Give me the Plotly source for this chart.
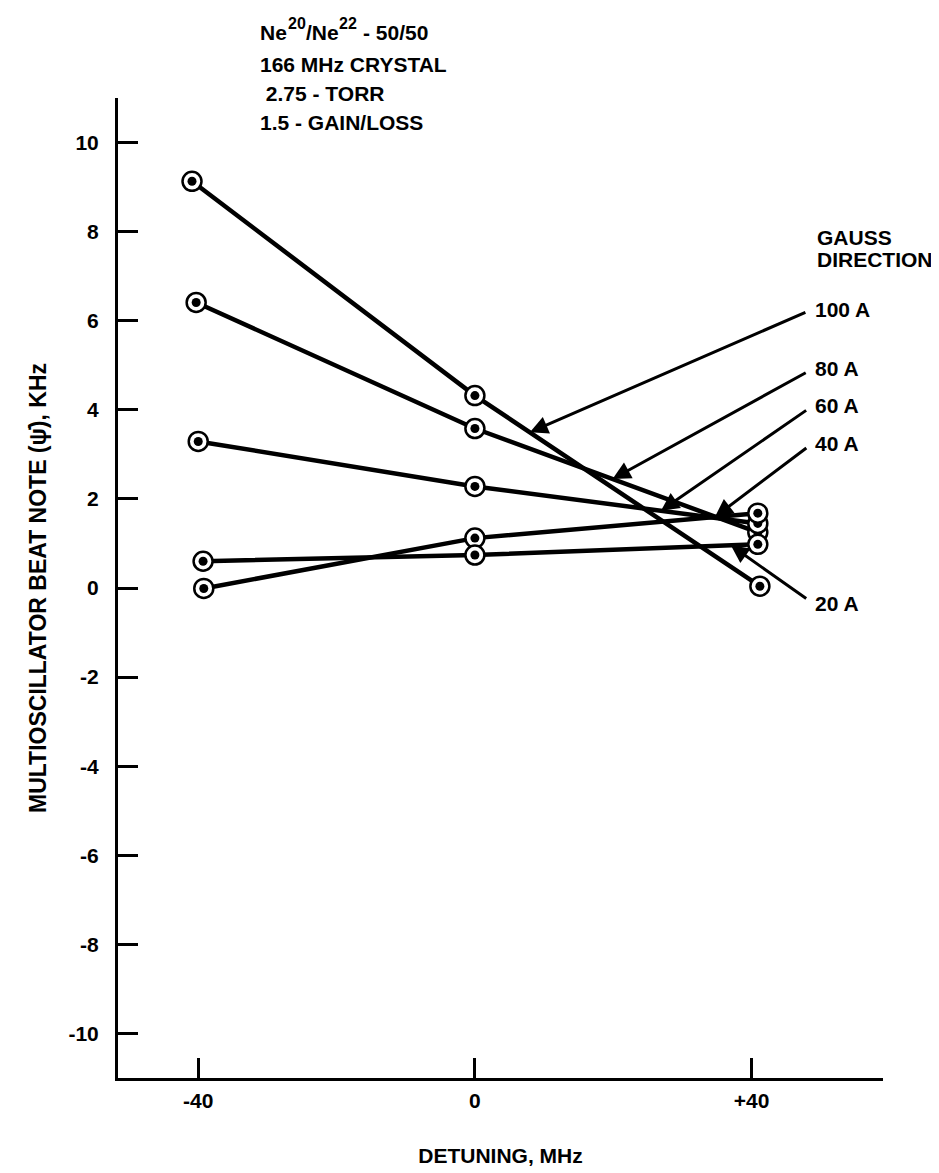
import numpy as np
import plotly.graph_objects as go

# ---- data ----
series_names = ["100 A", "80 A", "60 A", "40 A", "20 A"]
x_100 = [-40.9, 0.0, 41.2]
y_100 = [9.13, 4.32, 0.04]
x_80 = [-40.3, 0.0, 40.9]
y_80 = [6.41, 3.58, 1.25]
x_60 = [-40.0, 0.0, 40.9]
y_60 = [3.29, 2.28, 1.45]
x_40 = [-39.2, 0.0, 40.9]
y_40 = [-0.01, 1.12, 1.68]
x_20 = [-39.3, 0.0, 40.9]
y_20 = [0.60, 0.74, 0.98]

x_tickvals = [-40, 0, 40]
x_ticktext = ["-40", "0", "+40"]
y_tickvals = [-10, -8, -6, -4, -2, 0, 2, 4, 6, 8, 10]
y_ticktext = ["-10", "-8", "-6", "-4", "-2", "0", "2", "4", "6", "8", "10"]

# label arrows: x where each arrow touches its line, label y
arrow_tip_x = [7.95, 19.9, 26.9, 34.7, 37.0]
label_y = [6.26, 4.92, 4.09, 3.25, -0.34]
LABEL_X = 48.84

FONT = "Liberation Sans, Arial, sans-serif"
FS = 21


def bold_font(size=FS):
    return dict(family=FONT, size=size, color="black", weight="bold")


def px_x(p):
    return (p - 110) / 765


def px_y(p):
    return (1070 - p) / 980


xs = [x_100, x_80, x_60, x_40, x_20]
ys = [y_100, y_80, y_60, y_40, y_20]

fig = go.Figure()

for name, xv, yv in zip(series_names, xs, ys):
    fig.add_trace(go.Scatter(x=xv, y=yv, mode="lines",
                             line=dict(color="black", width=4.5),
                             showlegend=False, hoverinfo="skip"))
for name, xv, yv in zip(series_names, xs, ys):
    fig.add_trace(go.Scatter(x=xv, y=yv, mode="markers",
                             marker=dict(size=19, color="white",
                                         line=dict(color="black", width=2.5)),
                             showlegend=False, hoverinfo="skip"))
    fig.add_trace(go.Scatter(x=xv, y=yv, mode="markers",
                             marker=dict(size=9, color="black"),
                             showlegend=False, name=name))

annotations = []
for name, xv, yv, tx, ly in zip(series_names, xs, ys, arrow_tip_x, label_y):
    ty = float(np.interp(tx, xv, yv))
    annotations.append(dict(x=tx, y=ty, xref="x", yref="y",
                            ax=LABEL_X, ay=ly, axref="x", ayref="y",
                            text=name, xanchor="left", yanchor="middle",
                            showarrow=True, arrowhead=2, arrowsize=1.2,
                            arrowwidth=3, arrowcolor="black",
                            startstandoff=8, font=bold_font()))

for t, py in zip(["GAUSS", "DIRECTION"], [229, 252]):
    annotations.append(dict(x=px_x(807), y=px_y(py),
                            xref="paper", yref="paper", text=t,
                            showarrow=False, xanchor="left",
                            yanchor="middle", font=bold_font()))

# first info line, built from pieces so the isotope numbers are raised
first_parts = [("Ne", 250, 24, FS), ("20", 278, 16, 16), ("/Ne", 296, 24, FS),
               ("22", 329, 16, 16), ("- 50/50", 353, 24, FS)]
for t, px, py, fs in first_parts:
    annotations.append(dict(x=px_x(px), y=px_y(py), xref="paper",
                            yref="paper", text=t, showarrow=False,
                            xanchor="left", yanchor="middle",
                            font=bold_font(fs)))

info_lines = ["166 MHz CRYSTAL", " 2.75 - TORR", "1.5 - GAIN/LOSS"]
info_y_px = [57, 86, 115]
for t, py in zip(info_lines, info_y_px):
    annotations.append(dict(x=px_x(250), y=px_y(py),
                            xref="paper", yref="paper", text=t,
                            showarrow=False, xanchor="left", yanchor="middle",
                            font=bold_font()))

fig.update_layout(
    width=939, height=1173,
    margin=dict(l=110, r=64, t=90, b=103),
    paper_bgcolor="white", plot_bgcolor="white",
    annotations=annotations,
    xaxis=dict(range=[-51.6, 59.0], showgrid=False, zeroline=False,
               showline=True, linecolor="black", linewidth=3,
               ticks="inside", ticklen=20, tickwidth=2.5, tickcolor="black",
               tickvals=x_tickvals, ticktext=x_ticktext,
               ticklabelstandoff=2, tickfont=bold_font(),
               title=dict(text="DETUNING, MHz", font=bold_font(),
                          standoff=38)),
    yaxis=dict(range=[-11, 11], showgrid=False, zeroline=False,
               showline=True, linecolor="black", linewidth=3,
               ticks="inside", ticklen=20, tickwidth=2.5, tickcolor="black",
               tickvals=y_tickvals, ticktext=y_ticktext,
               ticklabelstandoff=12, tickfont=bold_font(),
               title=dict(text="MULTIOSCILLATOR BEAT NOTE (\u03c8\u0307), KHz",
                          font=bold_font(23), standoff=16)),
)

fig.write_html("out.html")
